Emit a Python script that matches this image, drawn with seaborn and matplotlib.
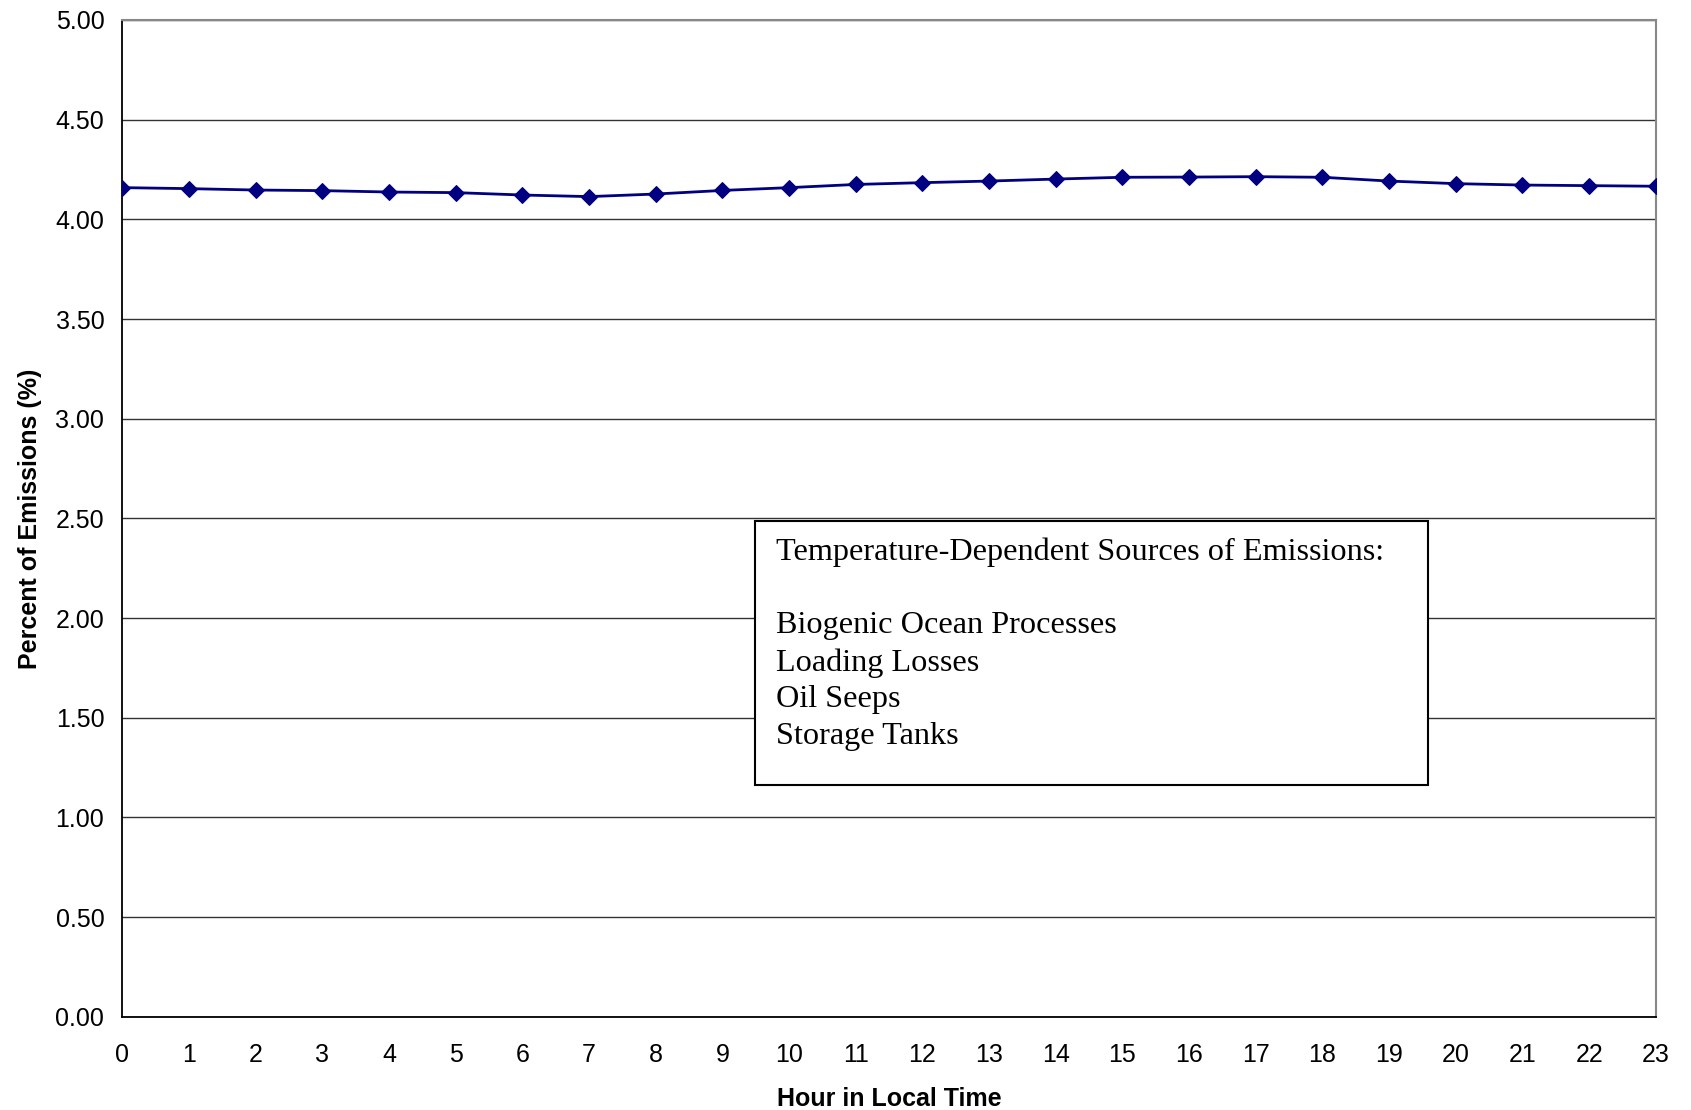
import matplotlib
matplotlib.use("Agg")
import matplotlib.pyplot as plt
import seaborn as sns
import pandas as pd

hours = list(range(24))
percent = [4.159, 4.154, 4.147, 4.144, 4.137, 4.134, 4.122, 4.114, 4.127, 4.145,
           4.159, 4.175, 4.184, 4.192, 4.202, 4.211, 4.212, 4.214, 4.211, 4.192,
           4.179, 4.172, 4.169, 4.166]
y_ticks = [0.0, 0.5, 1.0, 1.5, 2.0, 2.5, 3.0, 3.5, 4.0, 4.5, 5.0]
box_title = "Temperature-Dependent Sources of Emissions:"
box_items = ["Biogenic Ocean Processes", "Loading Losses", "Oil Seeps", "Storage Tanks"]

sns.set_style("white")
plt.rcParams['font.family'] = ['Liberation Sans', 'DejaVu Sans']

df = pd.DataFrame({"hour": hours, "pct": percent})

fig = plt.figure(figsize=(16.91, 11.10), dpi=100)
ax = fig.add_axes([0.0724, 0.084, 0.9068, 0.898])

sns.lineplot(data=df, x="hour", y="pct", ax=ax, color="#000080", linewidth=2,
             marker="D", markersize=8.5, markeredgecolor="#000080", zorder=3)

ax.set_xlim(0, 23)
ax.set_ylim(0, 5)
ax.set_yticks(y_ticks)
ax.set_yticklabels([f"{v:.2f}" for v in y_ticks])
ax.set_xticks(hours)
ax.yaxis.grid(True, color="#333333", linewidth=1)
ax.set_axisbelow(True)

for s in ["left", "bottom"]:
    ax.spines[s].set_color("black")
    ax.spines[s].set_linewidth(1.3)
for s in ["top", "right"]:
    ax.spines[s].set_color("#888888")
    ax.spines[s].set_linewidth(1.5)

ax.tick_params(axis="both", direction="out", length=7, width=1.2, color="black",
               labelsize=18, labelcolor="black")
ax.tick_params(axis="x", pad=12)
ax.tick_params(axis="y", pad=6)

ax.set_xlabel("Hour in Local Time", fontsize=18, fontweight="bold", labelpad=14,
              color="black")
ax.set_ylabel("Percent of Emissions (%)", fontsize=18, fontweight="bold", labelpad=10,
              color="black")

# Text box
bx0, by0, bw, bh = 755 / 1691, 1 - 785 / 1110, (1428 - 755) / 1691, (785 - 521) / 1110
rect = plt.Rectangle((bx0, by0), bw, bh, transform=fig.transFigure, facecolor="white",
                     edgecolor="black", linewidth=1.5, zorder=5)
fig.patches.append(rect)
text = box_title + "\n\n" + "\n".join(box_items)
fig.text(776 / 1691, 1 - 538 / 1110, text, fontsize=23.2, family=["Liberation Serif"],
         va="top", ha="left", linespacing=1.34, color="black", zorder=6)

fig.savefig("out.png", dpi=100)
